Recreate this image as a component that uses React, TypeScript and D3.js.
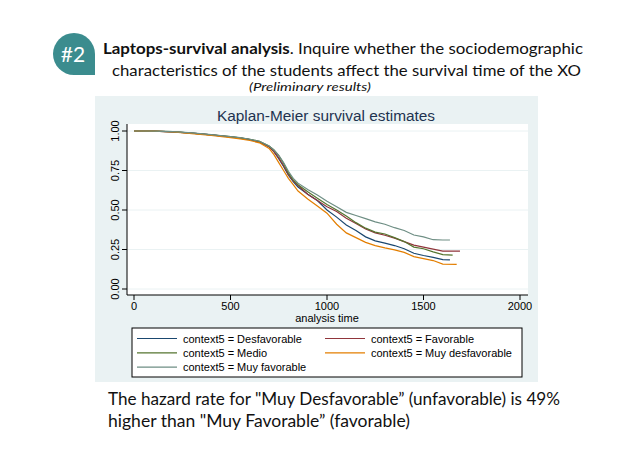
import * as d3 from "d3";

const TIMES = [
  0, 100, 200, 300, 400, 500, 550, 600, 650, 700, 725, 750, 775, 800, 825, 850,
  900, 950, 1000, 1050, 1100, 1150, 1200, 1250, 1300, 1350, 1400, 1450, 1500,
  1550, 1600,
];

const LABELS = [
  "Desfavorable",
  "Favorable",
  "Medio",
  "Muy desfavorable",
  "Muy favorable",
];
const COLORS = ["#1a476f", "#90353b", "#55752f", "#e37e00", "#6e8e84"];

const S_DESFAV = [
  1, 0.999, 0.995, 0.986, 0.975, 0.962, 0.955, 0.945, 0.93, 0.9, 0.87, 0.825,
  0.775, 0.72, 0.68, 0.645, 0.6, 0.56, 0.5, 0.455, 0.405, 0.37, 0.33, 0.305,
  0.29, 0.275, 0.255, 0.226, 0.212, 0.2, 0.186,
];
const S_FAV = [
  1, 0.999, 0.995, 0.987, 0.976, 0.963, 0.956, 0.946, 0.93, 0.9, 0.87, 0.83,
  0.78, 0.725, 0.685, 0.655, 0.6, 0.56, 0.52, 0.49, 0.448, 0.415, 0.38, 0.355,
  0.34, 0.322, 0.3, 0.278, 0.265, 0.252, 0.24,
];
const S_MEDIO = [
  1, 0.999, 0.996, 0.987, 0.976, 0.964, 0.957, 0.948, 0.934, 0.905, 0.88,
  0.845, 0.795, 0.735, 0.69, 0.66, 0.615, 0.575, 0.535, 0.5, 0.462, 0.42,
  0.385, 0.36, 0.348, 0.325, 0.3, 0.265, 0.255, 0.235, 0.218,
];
const S_MUY_DESFAV = [
  1, 0.999, 0.994, 0.984, 0.972, 0.958, 0.95, 0.94, 0.925, 0.89, 0.85, 0.8,
  0.75, 0.7, 0.66, 0.62, 0.57, 0.525, 0.48, 0.41, 0.355, 0.325, 0.295, 0.275,
  0.26, 0.248, 0.232, 0.205, 0.192, 0.18, 0.158,
];
const S_MUY_FAV = [
  1, 0.999, 0.996, 0.988, 0.977, 0.965, 0.958, 0.948, 0.935, 0.905, 0.88,
  0.845, 0.8, 0.745, 0.7, 0.67, 0.63, 0.595, 0.555, 0.52, 0.485, 0.465, 0.445,
  0.425, 0.41, 0.388, 0.37, 0.342, 0.33, 0.312, 0.31,
];
const SERIES = [S_DESFAV, S_FAV, S_MEDIO, S_MUY_DESFAV, S_MUY_FAV];

// last observed time and survival for each group
const END_TIMES = [1637, 1689, 1651, 1672, 1637];
const END_VALUES = [0.184, 0.24, 0.215, 0.156, 0.31];

const X_TICKS = [0, 500, 1000, 1500, 2000];
const Y_TICKS = [0, 0.25, 0.5, 0.75, 1];

const W = 638;
const H = 451;

export default function App() {
  const x = d3.scaleLinear().domain([0, 2000]).range([134, 520]);
  const y = d3.scaleLinear().domain([0, 1]).range([289, 131]);

  const line = d3
    .line<[number, number]>()
    .x((d) => x(d[0]))
    .y((d) => y(d[1]))
    .curve(d3.curveLinear);

  const curves = SERIES.map((vals, i) => {
    const pts: [number, number][] = TIMES.map((t, j) => [t, vals[j]]);
    pts.push([END_TIMES[i], END_VALUES[i]]);
    return line(pts) || "";
  });

  const stataFont = "'Liberation Sans', Arial, sans-serif";
  const slideFont = "Lato, 'Open Sans', sans-serif";

  // legend layout: two columns, three rows
  const legendPos = LABELS.map((_, i) => ({
    lx: i % 2 === 0 ? 137 : 325,
    ly: 338.5 + Math.floor(i / 2) * 14.3,
  }));

  return (
    <div style={{ position: "fixed", left: 0, top: 0 }}>
      <svg width={W} height={H} style={{ display: "block", background: "#fff" }}>
        {/* badge: round drop with a corner at bottom right */}
        <path
          d="M95,54 A21,21 0 1 0 74,75 L95,75 Z"
          fill="#3b8c8e"
        />
        <text
          x={73}
          y={62}
          textAnchor="middle"
          fill="#fff"
          fontFamily={slideFont}
          fontSize={21}
        >
          #2
        </text>

        {/* header text */}
        <text
          x={103}
          y={54}
          fontFamily={slideFont}
          fontSize={16}
          fill="#111"
          textLength={480}
          lengthAdjust="spacingAndGlyphs"
        >
          <tspan fontWeight="bold">Laptops-survival analysis</tspan>
          <tspan>. Inquire whether the sociodemographic</tspan>
        </text>
        <text
          x={112}
          y={76}
          fontFamily={slideFont}
          fontSize={16}
          fill="#111"
          textLength={469}
          lengthAdjust="spacingAndGlyphs"
        >
          characteristics of the students affect the survival time of the XO
        </text>
        <text
          x={249}
          y={91}
          fontFamily={slideFont}
          fontSize={11}
          fontStyle="italic"
          fill="#111"
          textLength={122}
          lengthAdjust="spacingAndGlyphs"
        >
          (Preliminary results)
        </text>

        {/* Stata graph region */}
        <rect x={95} y={96} width={443} height={286} fill="#eaf2f3" />
        <rect x={127} y={124} width={401} height={171} fill="#fff" />

        <text
          x={326}
          y={121}
          textAnchor="middle"
          fontFamily={stataFont}
          fontSize={15.4}
          fill="#1e3350"
        >
          Kaplan-Meier survival estimates
        </text>

        {/* grid */}
        {Y_TICKS.map((t) => (
          <line
            key={"g" + t}
            x1={127}
            x2={528}
            y1={y(t)}
            y2={y(t)}
            stroke="#eaf2f3"
            strokeWidth={1}
          />
        ))}

        {/* y axis */}
        <line x1={127} x2={127} y1={124} y2={295} stroke="#000" strokeWidth={1} />
        {Y_TICKS.map((t) => (
          <g key={"y" + t}>
            <line x1={122} x2={127} y1={y(t)} y2={y(t)} stroke="#000" />
            <text
              transform={`translate(119,${y(t)}) rotate(-90)`}
              textAnchor="middle"
              fontFamily={stataFont}
              fontSize={11}
              fill="#000"
            >
              {d3.format(".2f")(t)}
            </text>
          </g>
        ))}

        {/* x axis */}
        <line x1={127} x2={528} y1={295} y2={295} stroke="#000" strokeWidth={1} />
        {X_TICKS.map((t) => (
          <g key={"x" + t}>
            <line x1={x(t)} x2={x(t)} y1={295} y2={300} stroke="#000" />
            <text
              x={x(t)}
              y={309.5}
              textAnchor="middle"
              fontFamily={stataFont}
              fontSize={11}
              fill="#000"
            >
              {t}
            </text>
          </g>
        ))}
        <text
          x={327}
          y={321.5}
          textAnchor="middle"
          fontFamily={stataFont}
          fontSize={11}
          fill="#000"
        >
          analysis time
        </text>

        {/* curves */}
        {curves.map((d, i) => (
          <path key={LABELS[i]} d={d} fill="none" stroke={COLORS[i]} strokeWidth={1.2} />
        ))}

        {/* legend */}
        <rect x={132} y={328} width={390} height={49} fill="#fff" stroke="#000" strokeWidth={1} />
        {LABELS.map((lab, i) => (
          <g key={"l" + lab}>
            <line
              x1={legendPos[i].lx}
              x2={legendPos[i].lx + 40}
              y1={legendPos[i].ly}
              y2={legendPos[i].ly}
              stroke={COLORS[i]}
              strokeWidth={1.2}
            />
            <text
              x={legendPos[i].lx + 46}
              y={legendPos[i].ly + 4}
              fontFamily={stataFont}
              fontSize={11}
              fill="#000"
            >
              {"context5 = " + lab}
            </text>
          </g>
        ))}

        {/* footnote */}
        <text
          x={108}
          y={405}
          fontFamily={slideFont}
          fontSize={17}
          fill="#111"
          textLength={452}
          lengthAdjust="spacingAndGlyphs"
        >
          The hazard rate for "Muy Desfavorable” (unfavorable) is 49%
        </text>
        <text
          x={108}
          y={427}
          fontFamily={slideFont}
          fontSize={17}
          fill="#111"
          textLength={302}
          lengthAdjust="spacingAndGlyphs"
        >
          higher than  "Muy Favorable” (favorable)
        </text>
      </svg>
    </div>
  );
}
